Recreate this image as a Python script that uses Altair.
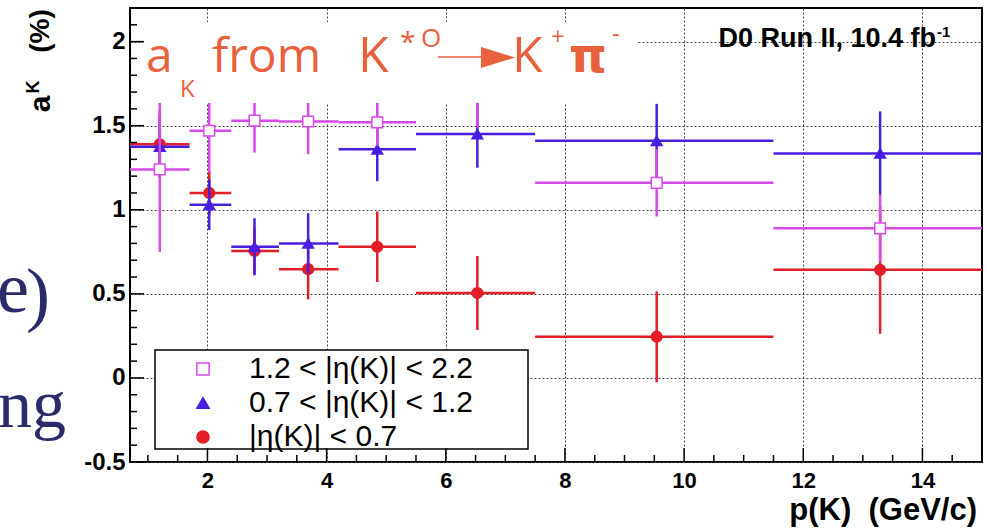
import altair as alt
import pandas as pd

# ---------------- data ----------------
series_labels = ["1.2 < |η(K)| < 2.2", "0.7 < |η(K)| < 1.2", "|η(K)| < 0.7"]
series_colors = ["#d64ae8", "#4a1ee0", "#e41e26"]
series_fills = ["white", "#4a1ee0", "#e41e26"]
series_shapes = ["square", "triangle-up", "circle"]

bin_lo = [0.7, 1.7, 2.4, 3.2, 4.2, 5.5, 7.5, 11.5]
bin_hi = [1.7, 2.4, 3.2, 4.2, 5.5, 7.5, 11.5, 15.0]
p_mean = [1.2, 2.03, 2.79, 3.69, 4.85, 6.53, 9.54, 13.29]

ak_fwd = [1.24, 1.47, 1.53, 1.525, 1.52, 1.72, 1.16, 0.89]
err_fwd = [0.49, 0.25, 0.19, 0.195, 0.14, 0.23, 0.2, 0.2]
ak_mid = [1.375, 1.03, 0.78, 0.80, 1.36, 1.45, 1.41, 1.335]
err_mid = [0.18, 0.15, 0.17, 0.18, 0.19, 0.2, 0.22, 0.25]
ak_cen = [1.39, 1.10, 0.755, 0.647, 0.78, 0.505, 0.245, 0.643]
err_cen = [0.2, 0.13, 0.14, 0.18, 0.21, 0.22, 0.27, 0.38]

x_major = [2, 4, 6, 8, 10, 12, 14]
x_minor = [1, 1.5, 2.5, 3, 3.5, 4.5, 5, 5.5, 6.5, 7, 7.5, 8.5, 9, 9.5,
           10.5, 11, 11.5, 12.5, 13, 13.5, 14.5]
y_major = [-0.5, 0, 0.5, 1, 1.5, 2]
y_minor = [-0.4, -0.3, -0.2, -0.1, 0.1, 0.2, 0.3, 0.4, 0.6, 0.7, 0.8, 0.9,
           1.1, 1.2, 1.3, 1.4, 1.6, 1.7, 1.8, 1.9, 2.1]

# ---------------- build table ----------------
rows = []
for label, vals, errs in [(series_labels[2], ak_cen, err_cen),
                          (series_labels[1], ak_mid, err_mid),
                          (series_labels[0], ak_fwd, err_fwd)]:
    for lo, hi, p, v, e in zip(bin_lo, bin_hi, p_mean, vals, errs):
        rows.append(dict(series=label, p=p, xlo=lo, xhi=hi, ak=v,
                         ylo=v - e, yhi=v + e))
df = pd.DataFrame(rows)

W, H = 852, 454
OFFX, OFFY = 130, 8
ORANGE = "#e8613c"
FONT = "Liberation Sans"

xs = alt.Scale(domain=[0.7, 15], nice=False, zero=False)
ys = alt.Scale(domain=[-0.5, 2.2], nice=False, zero=False)

x_axis = alt.Axis(values=x_major, title=None, domain=False, ticks=False,
                  labelFont=FONT, labelFontWeight="bold", labelFontSize=22,
                  labelColor="black", labelPadding=8, labelFlush=False,
                  labelExpr="'' + datum.value",
                  grid=True, gridColor="#444", gridDash=[2, 2], gridWidth=1)
y_axis = alt.Axis(values=y_major, title=None, domain=False, ticks=False,
                  labelFont=FONT, labelFontWeight="bold", labelFontSize=24,
                  labelColor="black", labelPadding=5, labelFlush=False,
                  labelExpr="'' + datum.value",
                  grid=True, gridColor="#444", gridDash=[2, 2], gridWidth=1)

shape_scale = alt.Scale(domain=series_labels, range=series_shapes)
fill_scale = alt.Scale(domain=series_labels, range=series_fills)
stroke_scale = alt.Scale(domain=series_labels, range=series_colors)

legend = alt.Legend(title=None, orient="none", legendX=58, legendY=346,
                    padding=0, labelFont=FONT, labelFontSize=30, labelColor="black",
                    labelOffset=31, labelLimit=500, rowPadding=4,
                    symbolStrokeWidth=1.5, symbolSize=150)


def X(field):
    return alt.X(field, scale=xs, axis=x_axis)


def Y(field):
    return alt.Y(field, scale=ys, axis=y_axis)


layers = []
order = [(series_labels[2], series_colors[2]),
         (series_labels[1], series_colors[1]),
         (series_labels[0], series_colors[0])]
for i, (label, color) in enumerate(order):
    base = alt.Chart(df).transform_filter(alt.datum.series == label)
    h = base.mark_rule(strokeWidth=2.5, color=color, clip=True).encode(
        x=X("xlo:Q"), x2="xhi:Q", y=Y("ak:Q"))
    v = base.mark_rule(strokeWidth=2.5, color=color, clip=True).encode(
        x=X("p:Q"), y=Y("ylo:Q"), y2="yhi:Q")
    pts = base.mark_point(filled=True, size=115, strokeWidth=1.5, opacity=1, clip=True).encode(
        x=X("p:Q"), y=Y("ak:Q"),
        shape=alt.Shape("series:N", scale=shape_scale, legend=legend),
        fill=alt.Fill("series:N", scale=fill_scale, legend=legend),
        stroke=alt.Stroke("series:N", scale=stroke_scale, legend=legend))
    layers += [h, v, pts]

one = pd.DataFrame({"k": [0]})


def txt(s, px, py, size, color="black", font=FONT, weight="normal",
        align="left", baseline="alphabetic", angle=0):
    return alt.Chart(one).mark_text(text=s, font=font, fontSize=size, fontWeight=weight,
                                    color=color, align=align, baseline=baseline,
                                    angle=angle).encode(
        x=alt.value(px - OFFX), y=alt.value(py - OFFY))


# white patch of the slide overlay (covers the top of the plot)
patch = alt.Chart(one).mark_rect(fill="white").encode(
    x=alt.value(143 - OFFX), x2=alt.value(637 - OFFX),
    y=alt.value(22 - OFFY), y2=alt.value(103 - OFFY))

TF = "Open Sans"
title_parts = [
    txt("a", 146, 72, 48, ORANGE, TF),
    txt("K", 180, 97, 24, ORANGE, TF),
    txt("from", 212, 72, 48, ORANGE, TF),
    txt("K", 358, 72, 50, ORANGE, TF),
    txt("*", 400, 52, 28, ORANGE, TF),
    txt("O", 421, 47, 26, ORANGE, TF),
    txt("K", 512, 72, 50, ORANGE, TF),
    txt("+", 551, 45, 24, ORANGE, TF),
    txt("π", 569, 72, 48, ORANGE, "DejaVu Sans", "bold"),
    txt("-", 612, 42, 24, ORANGE, TF),
]
arrow_line = alt.Chart(one).mark_rule(color=ORANGE, strokeWidth=1.5).encode(
    x=alt.value(438 - OFFX), x2=alt.value(484 - OFFX), y=alt.value(57 - OFFY))
arrow_head = alt.Chart(one).mark_point(shape="M -1 -0.62 L 1 0 L -1 0.62 Z", filled=True,
                                       size=1156, color=ORANGE, opacity=1).encode(
    x=alt.value(498 - OFFX), y=alt.value(57.5 - OFFY))

d0 = [
    txt("D0 Run II, 10.4 fb", 936, 47, 27, weight="bold", align="right"),
    txt("-1", 937, 37, 15, weight="bold"),
]

legend_box = alt.Chart(one).mark_rect(fill="white", stroke="black", strokeWidth=1.5).encode(
    x=alt.value(155 - OFFX), x2=alt.value(528 - OFFX),
    y=alt.value(350 - OFFY), y2=alt.value(449 - OFFY))

# inward ticks (ROOT style)
tick_y_major = alt.Chart(pd.DataFrame({"v": y_major})).mark_rule(color="black", strokeWidth=1.5).encode(
    y=Y("v:Q"), x=alt.value(0), x2=alt.value(14))
tick_y_minor = alt.Chart(pd.DataFrame({"v": y_minor})).mark_rule(color="black", strokeWidth=1.5).encode(
    y=Y("v:Q"), x=alt.value(0), x2=alt.value(7))
tick_x_major = alt.Chart(pd.DataFrame({"v": x_major})).mark_rule(color="black", strokeWidth=1.5).encode(
    x=X("v:Q"), y=alt.value(H), y2=alt.value(H - 14))
tick_x_minor = alt.Chart(pd.DataFrame({"v": x_minor})).mark_rule(color="black", strokeWidth=1.5).encode(
    x=X("v:Q"), y=alt.value(H), y2=alt.value(H - 7))

axis_titles = [
    txt("(%)", 41, 31, 28, weight="bold", align="center", baseline="middle", angle=270),
    txt("a", 41, 104, 30, weight="bold", align="center", baseline="middle", angle=270),
    txt("K", 34, 87, 18, weight="bold", align="center", baseline="middle", angle=270),
    txt("p(K)\u00a0\u00a0(GeV/c)", 977, 520, 31, weight="bold", align="right"),
]

SLIDE = "#2b2b6b"
slide_text = [
    txt("e", -3, 312, 72, SLIDE, "Liberation Serif"),
    txt(")", 26, 318, 72, SLIDE, "Liberation Serif"),
    txt("ng", -2, 427, 68, SLIDE, "Liberation Serif"),
]

chart = alt.layer(
    *layers, patch, *title_parts, arrow_line, arrow_head, *d0, legend_box,
    tick_y_major, tick_y_minor, tick_x_major, tick_x_minor, *axis_titles, *slide_text
).properties(
    width=W, height=H,
    autosize=alt.AutoSizeParams(type="none"),
    padding={"left": OFFX, "top": OFFY, "right": 987 - OFFX - W, "bottom": 528 - OFFY - H},
    background="white",
).configure_view(stroke="black", strokeWidth=2)

chart.save("out.html", embed_options={"renderer": "svg", "actions": False})
